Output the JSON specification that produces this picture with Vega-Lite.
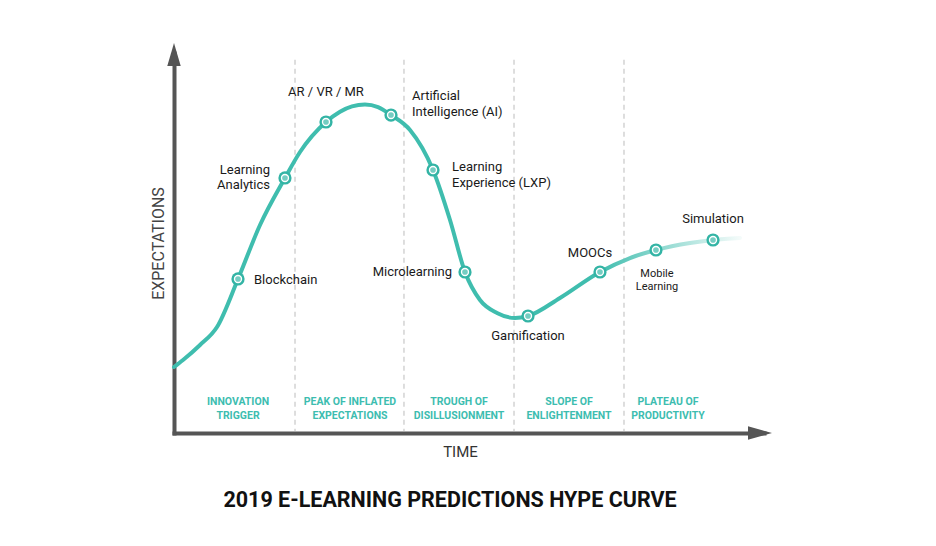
{
  "$schema": "https://vega.github.io/schema/vega-lite/v6.json",
  "autosize": {"type": "none"},
  "width": 590,
  "height": 380,
  "padding": {"left": 174, "top": 53, "right": 172, "bottom": 113},
  "background": "white",
  "title": {
    "text": "2019 E-LEARNING PREDICTIONS HYPE CURVE",
    "orient": "bottom",
    "anchor": "middle",
    "dx": -19,
    "offset": 31,
    "font": "Roboto",
    "fontSize": 21.5,
    "fontWeight": "bold",
    "color": "#111111"
  },
  "datasets": {
    "curve": [
      {"t": 0, "e": 17.37},
      {"t": 1.53, "e": 19.21},
      {"t": 4.41, "e": 23.16},
      {"t": 7.29, "e": 27.89},
      {"t": 10.85, "e": 40.53},
      {"t": 14.58, "e": 54.74},
      {"t": 18.81, "e": 67.11},
      {"t": 21.36, "e": 73.95},
      {"t": 25.76, "e": 81.84},
      {"t": 28.14, "e": 84.55},
      {"t": 30.17, "e": 85.95},
      {"t": 32.37, "e": 86.45},
      {"t": 34.58, "e": 85.76},
      {"t": 36.78, "e": 83.68},
      {"t": 40.0, "e": 79.74},
      {"t": 43.9, "e": 69.21},
      {"t": 46.78, "e": 56.05},
      {"t": 49.32, "e": 42.37},
      {"t": 51.86, "e": 35.0},
      {"t": 54.75, "e": 31.58},
      {"t": 57.8, "e": 30.26},
      {"t": 60.0, "e": 30.79},
      {"t": 65.42, "e": 35.53},
      {"t": 72.2, "e": 42.37},
      {"t": 77.29, "e": 46.05},
      {"t": 81.69, "e": 48.16},
      {"t": 87.46, "e": 50.0},
      {"t": 91.36, "e": 50.79},
      {"t": 95.93, "e": 51.32}
    ],
    "tech": [
      {"name": "Blockchain", "label": "Blockchain", "t": 10.85, "e": 40.53},
      {"name": "Learning Analytics", "label": "Learning\nAnalytics", "t": 18.81, "e": 67.11},
      {"name": "AR / VR / MR", "label": "AR / VR / MR", "t": 25.76, "e": 81.84},
      {"name": "Artificial Intelligence (AI)", "label": "Artificial\nIntelligence (AI)", "t": 36.78, "e": 83.68},
      {"name": "Learning Experience (LXP)", "label": "Learning\nExperience (LXP)", "t": 43.9, "e": 69.21},
      {"name": "Microlearning", "label": "Microlearning", "t": 49.32, "e": 42.37},
      {"name": "Gamification", "label": "Gamification", "t": 60.0, "e": 30.79},
      {"name": "MOOCs", "label": "MOOCs", "t": 72.2, "e": 42.37},
      {"name": "Mobile Learning", "label": "Mobile\nLearning", "t": 81.69, "e": 48.16},
      {"name": "Simulation", "label": "Simulation", "t": 91.36, "e": 50.79}
    ],
    "phases": [
      {"phase": "INNOVATION\nTRIGGER", "t": 10.85, "e": 6.32},
      {"phase": "PEAK OF INFLATED\nEXPECTATIONS", "t": 29.83, "e": 6.32},
      {"phase": "TROUGH OF\nDISILLUSIONMENT", "t": 48.31, "e": 6.32},
      {"phase": "SLOPE OF\nENLIGHTENMENT", "t": 66.95, "e": 6.32},
      {"phase": "PLATEAU OF\nPRODUCTIVITY", "t": 83.73, "e": 6.32}
    ],
    "dividers": [
      {"t": 20.51, "top": 98.2, "bottom": 0.5},
      {"t": 38.98, "top": 98.2, "bottom": 0.5},
      {"t": 57.63, "top": 98.2, "bottom": 0.5},
      {"t": 76.27, "top": 98.2, "bottom": 0.5}
    ],
    "arrows": [
      {"dir": "up", "t": 0, "e": 99.6},
      {"dir": "right", "t": 99.32, "e": 0}
    ]
  },
  "encoding": {
    "x": {
      "field": "t",
      "type": "quantitative",
      "scale": {"domain": [0, 100], "nice": false, "zero": false},
      "axis": {
        "title": "TIME",
        "titleX": 286,
        "titlePadding": 11,
        "titleFont": "Roboto",
        "titleFontSize": 15,
        "titleFontWeight": "normal",
        "titleColor": "#333333",
        "domainColor": "#555555",
        "domainWidth": 4,
        "domainCap": "square",
        "ticks": false,
        "labels": false,
        "grid": false
      }
    },
    "y": {
      "field": "e",
      "type": "quantitative",
      "scale": {"domain": [0, 100], "nice": false, "zero": false},
      "axis": {
        "title": "EXPECTATIONS",
        "titlePadding": 8,
        "titleFont": "Roboto",
        "titleFontSize": 16,
        "titleFontWeight": "normal",
        "titleColor": "#444444",
        "domainColor": "#555555",
        "domainWidth": 4,
        "domainCap": "square",
        "ticks": false,
        "labels": false,
        "grid": false
      }
    }
  },
  "layer": [
    {
      "data": {"name": "dividers"},
      "mark": {"type": "rule", "color": "#cccccc", "strokeWidth": 1.3, "strokeDash": [5, 4]},
      "encoding": {
        "y": {"field": "top", "type": "quantitative"},
        "y2": {"field": "bottom"}
      }
    },
    {
      "data": {"name": "phases"},
      "mark": {
        "type": "text",
        "align": "center",
        "baseline": "middle",
        "dy": -7,
        "lineBreak": "\n",
        "lineHeight": 14,
        "font": "Roboto",
        "fontSize": 10.5,
        "fontWeight": "bold",
        "color": "#3dbdb0"
      },
      "encoding": {"text": {"field": "phase"}}
    },
    {
      "data": {"name": "curve"},
      "mark": {
        "type": "line",
        "interpolate": "monotone",
        "strokeWidth": 4,
        "strokeCap": "round",
        "stroke": {
          "gradient": "linear",
          "x1": 0, "y1": 0, "x2": 1, "y2": 0,
          "stops": [
            {"offset": 0, "color": "#3fbdae"},
            {"offset": 0.75, "color": "#3fbdae"},
            {"offset": 1, "color": "#f4fbfa"}
          ]
        }
      }
    },
    {
      "data": {"name": "tech"},
      "mark": {"type": "point", "shape": "circle", "filled": true, "size": 175, "color": "#33b4a5", "opacity": 1}
    },
    {
      "data": {"name": "tech"},
      "mark": {"type": "point", "shape": "circle", "filled": true, "size": 70, "color": "#ffffff", "opacity": 1}
    },
    {
      "data": {"name": "tech"},
      "mark": {"type": "point", "shape": "circle", "filled": true, "size": 32, "color": "#74cdc2", "opacity": 1}
    },
    {
      "data": {"name": "tech"},
      "transform": [{"filter": "datum.name === 'Blockchain'"}],
      "mark": {"type": "text", "align": "left", "baseline": "middle", "dx": 16, "dy": 1, "font": "Roboto", "fontSize": 13, "color": "#1a1a1a"},
      "encoding": {"text": {"field": "label"}}
    },
    {
      "data": {"name": "tech"},
      "transform": [{"filter": "datum.name === 'Learning Analytics'"}],
      "mark": {"type": "text", "align": "right", "baseline": "middle", "dx": -15, "dy": -8, "lineBreak": "\n", "lineHeight": 15, "font": "Roboto", "fontSize": 13, "color": "#1a1a1a"},
      "encoding": {"text": {"field": "label"}}
    },
    {
      "data": {"name": "tech"},
      "transform": [{"filter": "datum.name === 'AR / VR / MR'"}],
      "mark": {"type": "text", "align": "center", "baseline": "middle", "dx": 0, "dy": -30, "font": "Roboto", "fontSize": 13, "color": "#1a1a1a"},
      "encoding": {"text": {"field": "label"}}
    },
    {
      "data": {"name": "tech"},
      "transform": [{"filter": "datum.name === 'Artificial Intelligence (AI)'"}],
      "mark": {"type": "text", "align": "left", "baseline": "middle", "dx": 21, "dy": -19, "lineBreak": "\n", "lineHeight": 16, "font": "Roboto", "fontSize": 13, "color": "#1a1a1a"},
      "encoding": {"text": {"field": "label"}}
    },
    {
      "data": {"name": "tech"},
      "transform": [{"filter": "datum.name === 'Learning Experience (LXP)'"}],
      "mark": {"type": "text", "align": "left", "baseline": "middle", "dx": 19, "dy": -3, "lineBreak": "\n", "lineHeight": 16, "font": "Roboto", "fontSize": 13, "color": "#1a1a1a"},
      "encoding": {"text": {"field": "label"}}
    },
    {
      "data": {"name": "tech"},
      "transform": [{"filter": "datum.name === 'Microlearning'"}],
      "mark": {"type": "text", "align": "right", "baseline": "middle", "dx": -13, "dy": 0, "font": "Roboto", "fontSize": 13, "color": "#1a1a1a"},
      "encoding": {"text": {"field": "label"}}
    },
    {
      "data": {"name": "tech"},
      "transform": [{"filter": "datum.name === 'Gamification'"}],
      "mark": {"type": "text", "align": "center", "baseline": "middle", "dx": 0, "dy": 20, "font": "Roboto", "fontSize": 13, "color": "#1a1a1a"},
      "encoding": {"text": {"field": "label"}}
    },
    {
      "data": {"name": "tech"},
      "transform": [{"filter": "datum.name === 'MOOCs'"}],
      "mark": {"type": "text", "align": "center", "baseline": "middle", "dx": -10, "dy": -19, "font": "Roboto", "fontSize": 13, "color": "#1a1a1a"},
      "encoding": {"text": {"field": "label"}}
    },
    {
      "data": {"name": "tech"},
      "transform": [{"filter": "datum.name === 'Mobile Learning'"}],
      "mark": {"type": "text", "align": "center", "baseline": "middle", "dx": 1, "dy": 24, "lineBreak": "\n", "lineHeight": 13, "font": "Roboto", "fontSize": 11, "color": "#1a1a1a"},
      "encoding": {"text": {"field": "label"}}
    },
    {
      "data": {"name": "tech"},
      "transform": [{"filter": "datum.name === 'Simulation'"}],
      "mark": {"type": "text", "align": "center", "baseline": "middle", "dx": 0, "dy": -21, "font": "Roboto", "fontSize": 13, "color": "#1a1a1a"},
      "encoding": {"text": {"field": "label"}}
    },
    {
      "data": {"name": "arrows"},
      "mark": {"type": "point", "filled": true, "size": 576, "color": "#555555", "opacity": 1},
      "encoding": {
        "shape": {
          "field": "dir",
          "type": "nominal",
          "scale": {
            "domain": ["up", "right"],
            "range": ["M-0.56,0.96L0,-0.96L0.56,0.96Z", "M-1,-0.56L1,0L-1,0.56Z"]
          },
          "legend": null
        }
      }
    }
  ],
  "config": {
    "view": {"stroke": null}
  }
}
